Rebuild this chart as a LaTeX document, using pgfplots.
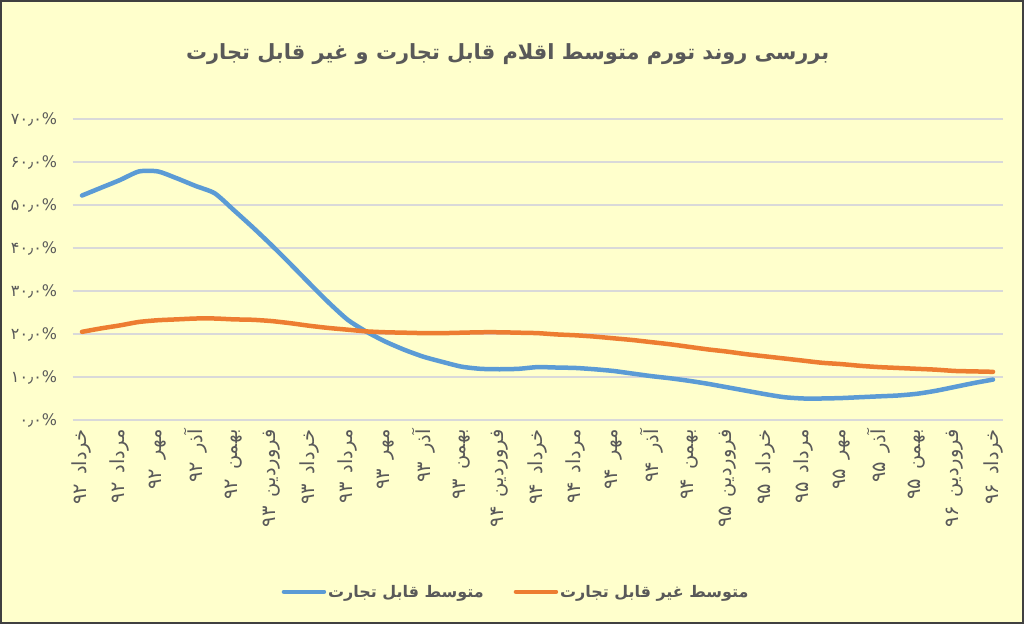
\documentclass[border=0pt]{standalone}
\usepackage{pgfplots}
\pgfplotsset{compat=1.18}
\usepackage{fontspec}
\setmainfont{DejaVu Sans}
\newfontfamily\arabicfont[Script=Arabic]{DejaVu Sans}
\TeXXeTstate=1
\definecolor{bg}{HTML}{FFFFCC}
\definecolor{txt}{HTML}{595959}
\definecolor{blueS}{HTML}{5B9BD5}
\definecolor{orangeS}{HTML}{ED7D31}
\definecolor{gridc}{HTML}{D9D9D9}
\newcommand{\lbl}[2]{\beginR #1\hspace{9bp}#2\endR}

\begin{document}
\begin{tikzpicture}[x=1bp,y=1bp]
\useasboundingbox (0,0) rectangle (1024,624);
\fill[bg] (0,0) rectangle (1024,624);
\draw[black!75, line width=2bp] (1,1) rectangle (1023,623);
\begin{axis}[
  at={(72.5bp,204bp)}, anchor=south west,
  scale only axis, width=930bp, height=301bp,
  xmin=-0.5, xmax=48.5, ymin=0, ymax=70,
  xtick={0,2,...,48}, ytick={0,10,...,70},
  axis line style={draw=none}, tick style={draw=none},
  ymajorgrids, grid style={gridc, line width=1.3bp},
  yticklabels={۰٫۰\%,۱۰٫۰\%,۲۰٫۰\%,۳۰٫۰\%,۴۰٫۰\%,۵۰٫۰\%,۶۰٫۰\%,۷۰٫۰\%},
  yticklabel style={font=\arabicfont\fontsize{16}{18}\selectfont, text=txt, anchor=east},
  yticklabel shift=12bp,
  xticklabels={
    \lbl{خرداد}{۹۲}, \lbl{مرداد}{۹۲}, \lbl{مهر}{۹۲}, \lbl{آذر}{۹۲},
    \lbl{بهمن}{۹۲}, \lbl{فروردین}{۹۳}, \lbl{خرداد}{۹۳}, \lbl{مرداد}{۹۳},
    \lbl{مهر}{۹۳}, \lbl{آذر}{۹۳}, \lbl{بهمن}{۹۳}, \lbl{فروردین}{۹۴},
    \lbl{خرداد}{۹۴}, \lbl{مرداد}{۹۴}, \lbl{مهر}{۹۴}, \lbl{آذر}{۹۴},
    \lbl{بهمن}{۹۴}, \lbl{فروردین}{۹۵}, \lbl{خرداد}{۹۵}, \lbl{مرداد}{۹۵},
    \lbl{مهر}{۹۵}, \lbl{آذر}{۹۵}, \lbl{بهمن}{۹۵}, \lbl{فروردین}{۹۶},
    \lbl{خرداد}{۹۶}},
  xticklabel style={font=\arabicfont\fontsize{19.5}{21}\selectfont, text=txt, rotate=90, anchor=east},
  xticklabel shift=6bp,
  title={\beginR بررسی روند تورم متوسط اقلام قابل تجارت و غیر قابل تجارت\endR},
  title style={font=\arabicfont\bfseries\fontsize{21}{25}\selectfont, text=txt, at={(0.468,1.195)}, anchor=center},
  legend columns=2,
  legend style={at={(0.477,-0.571)}, anchor=center, draw=none, fill=none,
    font=\arabicfont\bfseries\fontsize{16}{18}\selectfont, text=txt,
    /tikz/every even column/.append style={column sep=28bp}},
  legend image code/.code={\draw[#1, line cap=round] (0bp,0bp) -- (40bp,0bp);},
]
\addplot[blueS, line width=4.5bp, line cap=round, smooth, tension=0.4] coordinates {
(0,52.2) (1,54.0) (2,55.8) (3,57.8) (4,57.8) (5,56.2) (6,54.4) (7,52.7) (8,48.8) (9,44.8)
(10,40.6) (11,36.2) (12,31.7) (13,27.3) (14,23.3) (15,20.5) (16,18.2) (17,16.3) (18,14.7) (19,13.5)
(20,12.4) (21,11.9) (22,11.8) (23,11.9) (24,12.3) (25,12.2) (26,12.1) (27,11.8) (28,11.4) (29,10.8)
(30,10.2) (31,9.7) (32,9.1) (33,8.4) (34,7.6) (35,6.8) (36,6.0) (37,5.3) (38,5.0) (39,5.0)
(40,5.1) (41,5.3) (42,5.5) (43,5.7) (44,6.1) (45,6.8) (46,7.7) (47,8.6) (48,9.4)};
\addlegendentry{\beginR متوسط قابل تجارت\endR}
\addplot[orangeS, line width=4.5bp, line cap=round, smooth, tension=0.4] coordinates {
(0,20.5) (1,21.3) (2,22.0) (3,22.8) (4,23.2) (5,23.4) (6,23.6) (7,23.6) (8,23.4) (9,23.3)
(10,23.0) (11,22.5) (12,21.9) (13,21.4) (14,21.0) (15,20.6) (16,20.4) (17,20.3) (18,20.2) (19,20.2)
(20,20.3) (21,20.4) (22,20.4) (23,20.3) (24,20.2) (25,19.9) (26,19.7) (27,19.4) (28,19.0) (29,18.6)
(30,18.1) (31,17.6) (32,17.0) (33,16.4) (34,15.9) (35,15.3) (36,14.8) (37,14.3) (38,13.8) (39,13.3)
(40,13.0) (41,12.6) (42,12.3) (43,12.1) (44,11.9) (45,11.7) (46,11.4) (47,11.3) (48,11.2)};
\addlegendentry{\beginR متوسط غیر قابل تجارت\endR}
\end{axis}
\end{tikzpicture}
\end{document}
